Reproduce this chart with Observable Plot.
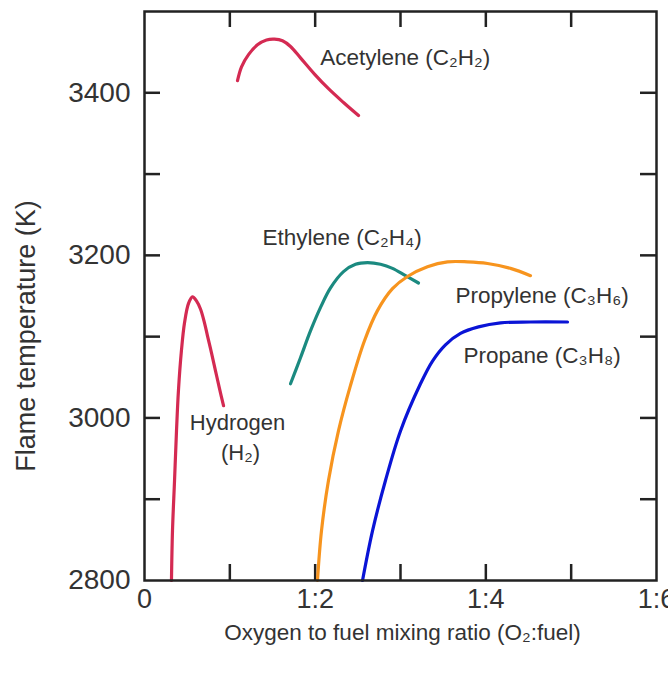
<!DOCTYPE html>
<html>
<head>
<meta charset="utf-8">
<script src="https://cdn.jsdelivr.net/npm/d3@7"></script>
<script src="https://cdn.jsdelivr.net/npm/@observablehq/plot@0.6"></script>
<style>
  body { margin: 0; background: #fff; }
  #chart svg { display: block; }
</style>
</head>
<body>
<div id="chart"></div>
<script>
// ---- Data ----
const fuels = ["Hydrogen", "Acetylene", "Ethylene", "Propylene", "Propane"];
const fuelColors = ["#d42a52", "#d42a52", "#1b8a80", "#f7941e", "#0a14d6"];

const hydrogenX = [0.316, 0.328, 0.352, 0.375, 0.398, 0.433, 0.469, 0.516, 0.563, 0.609, 0.656, 0.703, 0.738, 0.785, 0.832, 0.879, 0.926];
const hydrogenY = [2800, 2861, 2923, 2984, 3034, 3083, 3117, 3141, 3149, 3144, 3134, 3117, 3101, 3080, 3058, 3036, 3015];

const acetyleneX = [1.090, 1.137, 1.219, 1.324, 1.430, 1.523, 1.617, 1.711, 1.828, 1.992, 2.156, 2.332, 2.508];
const acetyleneY = [3415, 3432, 3447, 3459, 3465, 3466, 3464, 3457, 3443, 3423, 3405, 3388, 3372];

const ethyleneX = [1.711, 1.828, 1.945, 2.063, 2.180, 2.332, 2.473, 2.613, 2.766, 2.906, 3.059, 3.211];
const ethyleneY = [3042, 3074, 3107, 3136, 3160, 3180, 3189, 3191, 3189, 3184, 3175, 3166];

const propyleneX = [2.027, 2.074, 2.156, 2.273, 2.414, 2.578, 2.730, 2.906, 3.082, 3.316, 3.551, 3.785, 4.020, 4.289, 4.523];
const propyleneY = [2800, 2861, 2923, 2984, 3040, 3095, 3132, 3159, 3174, 3186, 3192, 3192, 3190, 3184, 3175];

const propaneX = [2.555, 2.672, 2.824, 3.0, 3.234, 3.375, 3.527, 3.703, 3.914, 4.172, 4.523, 4.957];
const propaneY = [2800, 2861, 2923, 2984, 3042, 3070, 3090, 3104, 3112, 3117, 3118, 3118];

const seriesX = [hydrogenX, acetyleneX, ethyleneX, propyleneX, propaneX];
const seriesY = [hydrogenY, acetyleneY, ethyleneY, propyleneY, propaneY];

// curve annotations
const labelText = ["Acetylene (C₂H₂)", "Ethylene (C₂H₄)", "Propylene (C₃H₆)", "Propane (C₃H₈)"];
const labelX = [2.06, 1.383, 3.645, 3.738];
const labelY = [3443, 3222, 3150, 3077];
const hydrogenLabel = ["Hydrogen", "(H₂)"];
const hydrogenLabelX = [1.09, 1.125];
const hydrogenLabelY = [2994, 2957];

// axes
const xTickValues = [0, 2, 4, 6];
const xTickLabels = ["0", "1:2", "1:4", "1:6"];
const xMinorTicks = [1, 2, 3, 4, 5];
const yTickValues = [2800, 3000, 3200, 3400];
const yMinorTicks = [2900, 3000, 3100, 3200, 3300, 3400];
const xTitle = "Oxygen to fuel mixing ratio (O₂:fuel)";
const yTitle = "Flame temperature (K)";

// ---- Build table ----
const rows = [];
fuels.forEach((f, i) => {
  seriesX[i].forEach((x, j) => rows.push({fuel: f, x, y: seriesY[i][j]}));
});
const labels = labelText.map((t, i) => ({t, x: labelX[i], y: labelY[i]}));
const hLabels = hydrogenLabel.map((t, i) => ({t, x: hydrogenLabelX[i], y: hydrogenLabelY[i]}));

const W = 668, H = 673;
const mL = 144, mR = 12, mT = 11, mB = 93;
const innerW = W - mL - mR, innerH = H - mT - mB;
const tickLen = 16;
const ink = "#222";
const textInk = "#333";

const chart = Plot.plot({
  width: W,
  height: H,
  marginLeft: mL,
  marginRight: mR,
  marginTop: mT,
  marginBottom: mB,
  style: {fontFamily: "'Liberation Sans', Arial, sans-serif", background: "#fff"},
  x: {domain: [0, 6]},
  y: {domain: [2800, 3500]},
  color: {domain: fuels, range: fuelColors},
  marks: [
    // inward ticks
    Plot.tickX(xMinorTicks, {x: d => d, insetTop: innerH - tickLen, stroke: ink, strokeWidth: 2.5}),
    Plot.tickX(xMinorTicks, {x: d => d, insetBottom: innerH - tickLen, stroke: ink, strokeWidth: 2.5}),
    Plot.tickY(yMinorTicks, {y: d => d, insetRight: innerW - tickLen, stroke: ink, strokeWidth: 2.5}),
    Plot.tickY(yMinorTicks, {y: d => d, insetLeft: innerW - tickLen, stroke: ink, strokeWidth: 2.5}),
    // curves
    Plot.line(rows, {x: "x", y: "y", z: "fuel", stroke: "fuel", strokeWidth: 3.2, curve: "catmull-rom"}),
    // annotations
    Plot.text(labels, {x: "x", y: "y", text: "t", textAnchor: "start", fontSize: 22.5, fill: textInk}),
    Plot.text(hLabels, {x: "x", y: "y", text: "t", textAnchor: "middle", fontSize: 22, fill: textInk}),
    // axes
    Plot.axisX(xTickValues, {tickSize: 0, tickPadding: 8, fontSize: 27, tickFormat: d => xTickLabels[xTickValues.indexOf(d)], label: null, color: textInk}),
    Plot.axisY(yTickValues, {tickSize: 0, tickPadding: 14, fontSize: 28, label: null, color: textInk, tickFormat: d => String(d)}),
    // titles
    Plot.text([xTitle], {frameAnchor: "bottom", textAnchor: "middle", dy: 59, dx: 2, text: d => d, fontSize: 22.5, fill: textInk}),
    Plot.text([yTitle], {frameAnchor: "left", textAnchor: "middle", dx: -118, dy: 40, rotate: -90, text: d => d, fontSize: 27, fill: textInk}),
    Plot.frame({stroke: ink, strokeWidth: 2.5})
  ]
});
document.getElementById("chart").appendChild(chart);
</script>
</body>
</html>
